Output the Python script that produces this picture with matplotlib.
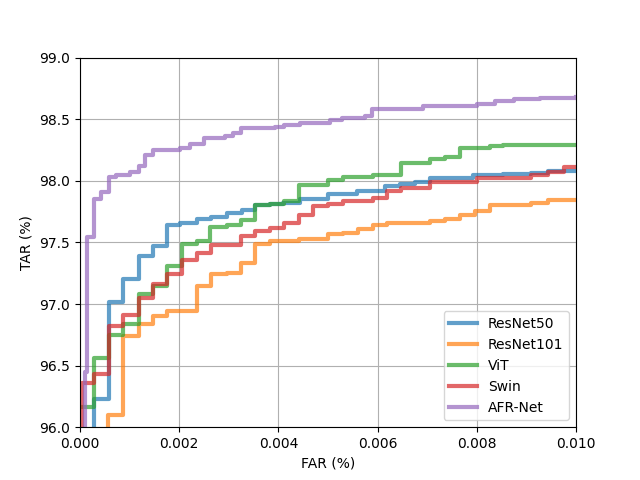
import matplotlib
matplotlib.use("Agg")
import matplotlib.pyplot as plt

# step points (FAR %, TAR %)
resnet50_far = [0, 0.00029, 0.00059, 0.00087, 0.00118, 0.00147, 0.00176, 0.00202, 0.00235,
                0.00265, 0.00296, 0.00326, 0.00353, 0.00383, 0.0041, 0.00444, 0.00501, 0.00558,
                0.00615, 0.00645, 0.00675, 0.00706, 0.00793, 0.00853, 0.0091, 0.00944, 0.0100]
resnet50_tar = [95.5, 96.23, 97.02, 97.20, 97.39, 97.47, 97.64, 97.66, 97.69,
                97.71, 97.74, 97.76, 97.80, 97.815, 97.82, 97.85, 97.89, 97.915,
                97.955, 97.97, 97.99, 98.02, 98.045, 98.057, 98.065, 98.08, 98.08]

resnet101_far = [0, 0.00057, 0.00087, 0.00118, 0.00147, 0.00176, 0.00235, 0.00265, 0.00296,
                 0.00324, 0.00353, 0.00383, 0.00442, 0.00501, 0.00531, 0.00561, 0.00591, 0.00619,
                 0.00706, 0.00736, 0.00766, 0.00796, 0.00827, 0.0091, 0.00944, 0.0100]
resnet101_tar = [95.0, 96.095, 96.74, 96.835, 96.90, 96.94, 97.145, 97.245, 97.255,
                 97.335, 97.485, 97.51, 97.53, 97.565, 97.58, 97.605, 97.64, 97.66,
                 97.675, 97.69, 97.725, 97.755, 97.80, 97.82, 97.845, 97.845]

vit_far = [0, 0.00028, 0.00059, 0.00087, 0.00118, 0.00147, 0.00176, 0.00205, 0.00235,
           0.00263, 0.00296, 0.00324, 0.00353, 0.00383, 0.00411, 0.00442, 0.00501, 0.00531,
           0.00591, 0.00647, 0.00706, 0.00736, 0.00766, 0.00827, 0.00853, 0.0100]
vit_tar = [96.16, 96.565, 96.75, 96.84, 97.08, 97.145, 97.31, 97.49, 97.51,
           97.625, 97.645, 97.685, 97.80, 97.81, 97.835, 97.965, 98.005, 98.03,
           98.05, 98.145, 98.18, 98.195, 98.27, 98.28, 98.29, 98.29]

swin_far = [0, 0.00004, 0.00028, 0.00059, 0.00087, 0.00118, 0.00147, 0.00176, 0.00205,
            0.00235, 0.00265, 0.00324, 0.00353, 0.00383, 0.00411, 0.00442, 0.0047, 0.00501,
            0.00531, 0.00591, 0.00618, 0.00648, 0.00706, 0.0080, 0.0091, 0.00944, 0.00975, 0.0100]
swin_tar = [95.5, 96.36, 96.435, 96.82, 96.91, 97.045, 97.16, 97.24, 97.36,
            97.415, 97.475, 97.555, 97.59, 97.62, 97.66, 97.725, 97.795, 97.815,
            97.835, 97.86, 97.915, 97.94, 97.99, 98.025, 98.05, 98.07, 98.11, 98.11]

afr_far = [0, 0.00011, 0.00015, 0.00028, 0.00042, 0.00059, 0.00073, 0.00101, 0.00118,
           0.00132, 0.00147, 0.00202, 0.00222, 0.00249, 0.00292, 0.00309, 0.00324, 0.00393,
           0.00411, 0.00444, 0.00504, 0.00528, 0.00575, 0.00588, 0.00692, 0.0080, 0.00837,
           0.00874, 0.00927, 0.0100]
afr_tar = [95.0, 96.45, 97.54, 97.85, 97.91, 98.03, 98.05, 98.07, 98.12,
           98.21, 98.25, 98.27, 98.30, 98.35, 98.36, 98.39, 98.43, 98.44,
           98.45, 98.47, 98.49, 98.51, 98.53, 98.585, 98.605, 98.625, 98.645,
           98.66, 98.675, 98.68]

curves = [
    ("ResNet50", resnet50_far, resnet50_tar),
    ("ResNet101", resnet101_far, resnet101_tar),
    ("ViT", vit_far, vit_tar),
    ("Swin", swin_far, swin_tar),
    ("AFR-Net", afr_far, afr_tar),
]

plt.figure(figsize=(6.4, 4.8), dpi=100)
for name, far, tar in curves:
    plt.step(far, tar, where='post', linewidth=3, alpha=0.7, label=name)

plt.xlim(0, 0.01)
plt.ylim(96, 99)
plt.xlabel('FAR (%)')
plt.ylabel('TAR (%)')
plt.grid(True)
plt.legend(loc='lower right')

plt.savefig('out.png')
